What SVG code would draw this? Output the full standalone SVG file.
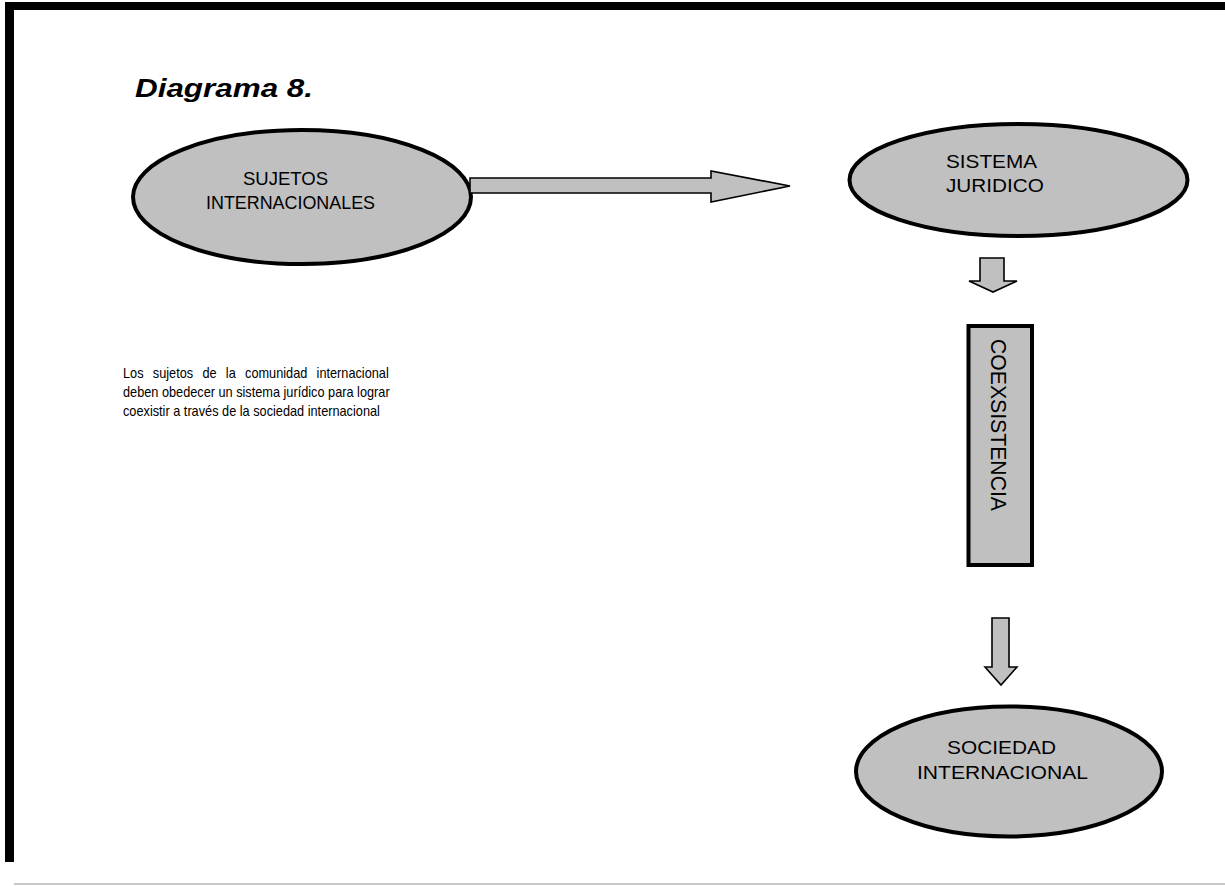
<svg xmlns="http://www.w3.org/2000/svg" width="1225" height="886" viewBox="0 0 1225 886">
  <style>
    .node { fill: #c0c0c0; stroke: #000; stroke-width: 4; }
    .arrow { fill: #c0c0c0; stroke: #000; stroke-width: 1.6; stroke-linejoin: miter; }
    .lbl { font-family: "Liberation Sans", Arial, sans-serif; fill: #000; }
    .title { font-family: "Liberation Sans", Arial, sans-serif; font-weight: bold; font-style: italic; fill: #000; }
  </style>
  <rect width="1225" height="886" fill="#fff"/>

  <!-- page frame -->
  <g id="frame">
    <rect x="5" y="2" width="1220" height="8" fill="#000"/>
    <rect x="5" y="2" width="9" height="860" fill="#000"/>
    <rect x="14" y="883" width="1211" height="2" fill="#c8c8c8"/>
  </g>

  <text class="title" x="135" y="97" font-size="26" textLength="178" lengthAdjust="spacingAndGlyphs">Diagrama 8.</text>

  <g id="sujetos">
    <ellipse class="node" cx="302" cy="197" rx="169" ry="67"/>
    <text class="lbl" font-size="17.5" x="243" y="185" textLength="85" lengthAdjust="spacingAndGlyphs">SUJETOS</text>
    <text class="lbl" font-size="17.5" x="206" y="209" textLength="169" lengthAdjust="spacingAndGlyphs">INTERNACIONALES</text>
  </g>

  <g id="sistema">
    <ellipse class="node" cx="1018.5" cy="180" rx="169" ry="56"/>
    <text class="lbl" font-size="18.5" x="946" y="168" textLength="91" lengthAdjust="spacingAndGlyphs">SISTEMA</text>
    <text class="lbl" font-size="18.5" x="946" y="192" textLength="98" lengthAdjust="spacingAndGlyphs">JURIDICO</text>
  </g>

  <g id="coexsistencia">
    <rect class="node" x="968.5" y="326" width="63.5" height="239"/>
    <text class="lbl" font-size="22" transform="translate(991,339) rotate(90)" textLength="172" lengthAdjust="spacingAndGlyphs">COEXSISTENCIA</text>
  </g>

  <g id="sociedad">
    <ellipse class="node" cx="1009" cy="771.5" rx="153" ry="65"/>
    <text class="lbl" font-size="18.5" x="947" y="754" textLength="109" lengthAdjust="spacingAndGlyphs">SOCIEDAD</text>
    <text class="lbl" font-size="18.5" x="917" y="779" textLength="171" lengthAdjust="spacingAndGlyphs">INTERNACIONAL</text>
  </g>

  <!-- justified note, three lines -->
  <g id="nota" transform="translate(123,0) scale(0.91,1)">
    <text class="lbl" font-size="14" x="0" y="378" word-spacing="6.3">Los sujetos de la comunidad internacional</text>
    <text class="lbl" font-size="14" x="0" y="397" textLength="293" lengthAdjust="spacing">deben obedecer un sistema jurídico para lograr</text>
    <text class="lbl" font-size="14" x="0" y="416">coexistir a través de la sociedad internacional</text>
  </g>

  <g id="connectors">
    <polygon class="arrow" points="470,178 711,178 711,171 790,186 711,202 711,193 470,193"/>
    <polygon class="arrow" points="980,258 1004,258 1004,281 1017,281 993,292 969,281 980,281"/>
    <polygon class="arrow" points="992,618 1009,618 1009,667 1017,667 1001,685 985,667 992,667"/>
  </g>
</svg>
